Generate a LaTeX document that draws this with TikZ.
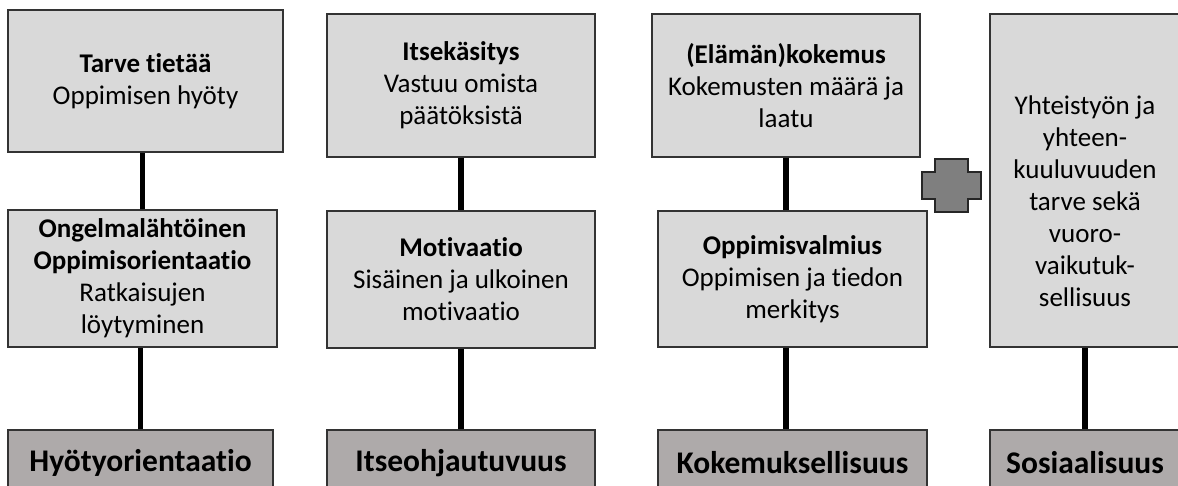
\documentclass[tikz,border=0pt]{standalone}
\usepackage{fontspec}
\setmainfont{Carlito}[Ligatures=NoCommon]
\usetikzlibrary{positioning}
\definecolor{boxgray}{HTML}{D9D9D9}
\definecolor{maingray}{HTML}{AEAAAA}
\definecolor{plusgray}{HTML}{7F7F7F}
\definecolor{edgegray}{HTML}{333333}

\begin{document}
\begin{tikzpicture}[x=1pt,y=-1pt,
    infobox/.style={draw=edgegray, line width=1.5pt, fill=boxgray, align=center,
        inner sep=0pt, font=\fontsize{27}{32}\selectfont},
    mainbox/.style={draw=edgegray, line width=1.5pt, fill=maingray, align=center,
        inner sep=0pt, minimum height=66pt, font=\fontsize{31.5}{36}\selectfont\bfseries},
    link/.style={line width=5.5pt, black}]
    \useasboundingbox (0,0) rectangle (1178,486);
    \clip (0,0) rectangle (1178,486);

    % Hyotyorientaatio
    \node[infobox, minimum width=275pt, minimum height=142pt] (need) at (145.5,81)
        {\textbf{Tarve tietää}\\Oppimisen hyöty};
    \node[infobox, minimum width=269pt, minimum height=137pt] (problem) at (142.5,278.5)
        {\textbf{Ongelmalähtöinen}\\\textbf{Oppimisorientaatio}\\Ratkaisujen\\löytyminen};
    \node[mainbox, minimum width=265pt] (utility) at (140.5,463) {Hyötyorientaatio};
    \draw[link] (problem.north) -- (problem.north |- need.south);
    \draw[link] (utility.north) -- (utility.north |- problem.south);

    % Itseohjautuvuus
    \node[infobox, minimum width=268pt, minimum height=143pt] (selfimage) at (461,85.5)
        {\textbf{Itsekäsitys}\\Vastuu omista\\päätöksistä};
    \node[infobox, minimum width=268pt, minimum height=137pt] (motive) at (461,279.5)
        {\textbf{Motivaatio}\\Sisäinen ja ulkoinen\\motivaatio};
    \node[mainbox, minimum width=268pt] (selfdir) at (461,463) {Itseohjautuvuus};
    \draw[link] (selfimage) -- (motive);
    \draw[link] (motive) -- (selfdir);

    % Kokemuksellisuus
    \node[infobox, minimum width=268pt, minimum height=143pt] (life) at (786,85.5)
        {\textbf{(Elämän)kokemus}\\Kokemusten määrä ja\\laatu};
    \node[infobox, minimum width=269pt, minimum height=136pt] (ready) at (792.5,279)
        {\textbf{Oppimisvalmius}\\Oppimisen ja tiedon\\merkitys};
    \node[mainbox, minimum width=269pt] (exper) at (792.5,463) {Kokemuksellisuus};
    \draw[link] (life.south) -- (life.south |- ready.north);
    \draw[link] (life.south |- ready.south) -- (life.south |- exper.north);

    % plus sign
    \draw[draw=black!85, line width=1.5pt, fill=plusgray]
        (935,159) -- (968,159) -- (968,172) -- (981,172) -- (981,199) -- (968,199)
        -- (968,212) -- (935,212) -- (935,199) -- (922,199) -- (922,172) -- (935,172) -- cycle;

    % Sosiaalisuus
    \node[infobox, minimum width=190pt, minimum height=333pt] (together) at (1085,180.5)
        {\rule{0pt}{60pt}Yhteistyön ja\\yhteen-\\kuuluvuuden\\tarve sekä\\vuoro-\\vaikutuk-\\sellisuus};
    \node[mainbox, minimum width=190pt] (social) at (1085,463) {Sosiaalisuus};
    \draw[link] (together) -- (social);
\end{tikzpicture}
\end{document}
